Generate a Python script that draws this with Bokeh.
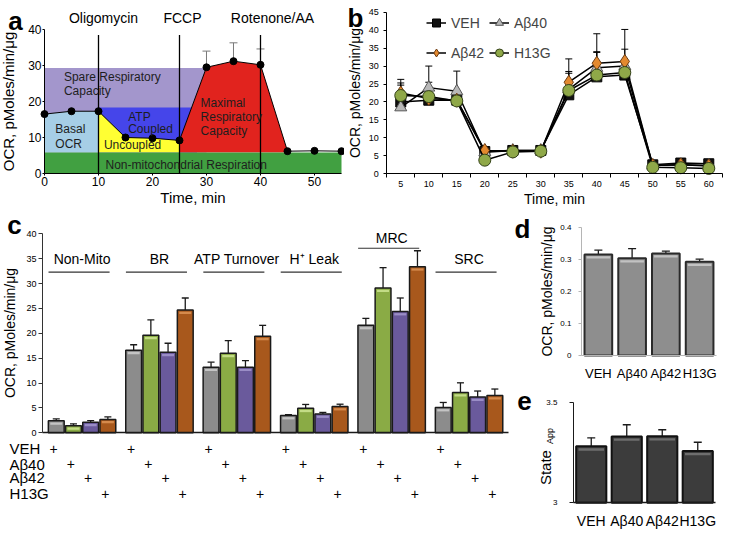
import numpy as np
from bokeh.plotting import figure
from bokeh.layouts import column, row
from bokeh.models import (ColumnDataSource, FixedTicker, Whisker, TeeHead,
                          Legend, LegendItem, Range1d, NumeralTickFormatter)
from bokeh.core.properties import value
from bokeh.embed import file_html
from bokeh.resources import INLINE

FONT = "Liberation Sans"

# ---------------- Panel a data ----------------
a_time = [0, 5, 10, 15, 20, 25, 30, 35, 40, 45, 50, 55]
a_ocr = [16.5, 17.3, 17.3, 10.0, 9.8, 9.2, 29.5, 31.2, 30.2, 6.2, 6.3, 6.2]
a_err_time = [5, 10, 30, 35, 40]
a_err_top = [20.1, 20.1, 34.0, 36.3, 34.6]
a_nonmito = 5.8
a_spare_top = 29.3
a_atp_top = 18.3
a_injections = [10, 25, 40]
a_injection_names = ["Oligomycin", "FCCP", "Rotenone/AA"]
a_region_text = ["Spare Respiratory", "Capacity", "Basal", "OCR", "ATP", "Coupled",
                 "Uncoupled", "Maximal", "Respiratory", "Capacity",
                 "Non-mitochondrial Respiration"]

# ---------------- Panel b data ----------------
b_time = [5, 10, 15, 20, 25, 30, 35, 40, 45, 50, 55, 60]
b_veh = [20.0, 20.5, 20.5, 6.2, 6.5, 6.5, 22.0, 27.0, 27.5, 2.5, 3.0, 2.8]
b_ab40 = [18.5, 24.0, 23.0, 6.0, 6.5, 6.5, 23.5, 29.5, 30.0, 2.3, 2.5, 2.3]
b_ab42 = [22.5, 21.0, 20.5, 6.5, 6.3, 6.3, 25.5, 30.8, 31.3, 2.3, 2.5, 2.2]
b_h13g = [21.8, 21.5, 20.3, 3.8, 6.1, 6.3, 23.2, 27.5, 28.2, 1.8, 1.7, 1.5]
b_veh_err = [4.7, 0.5, 0.5, 0.5, 0.5, 0.5, 6.0, 0.8, 0.8, 0.3, 0.3, 0.3]
b_ab40_err = [6.8, 6.0, 5.6, 0.5, 0.5, 0.5, 5.0, 4.5, 4.7, 0.3, 0.3, 0.3]
b_ab42_err = [3.8, 4.5, 0.5, 0.5, 0.5, 0.5, 6.5, 8.2, 8.9, 0.3, 0.3, 0.3]
b_h13g_err = [0.5, 0.5, 0.5, 0.5, 0.5, 0.5, 0.5, 6.3, 0.8, 0.3, 0.3, 0.3]

# ---------------- Panel c data ----------------
c_groups = ["Non-Mito", "BR", "ATP Turnover", "H\u207a Leak", "MRC", "SRC"]
c_treatments = ["VEH", "A\u03b240", "A\u03b242", "H13G"]
c_veh = [2.4, 16.6, 13.2, 3.5, 21.6, 5.1]
c_ab40 = [1.4, 19.6, 16.0, 4.95, 29.1, 8.1]
c_ab42 = [2.1, 16.2, 13.2, 3.8, 24.4, 7.2]
c_h13g = [2.7, 24.7, 19.4, 5.3, 33.4, 7.5]
c_veh_err = [0.4, 1.1, 1.0, 0.15, 1.4, 1.0]
c_ab40_err = [0.4, 3.1, 2.55, 0.75, 4.1, 1.95]
c_ab42_err = [0.35, 1.8, 1.3, 0.3, 2.7, 1.2]
c_h13g_err = [0.5, 2.4, 2.2, 0.45, 3.2, 1.3]

# ---------------- Panel d / e data ----------------
de_cats = ["VEH", "A\u03b240", "A\u03b242", "H13G"]
d_values = [0.316, 0.304, 0.319, 0.293]
d_err = [0.013, 0.030, 0.007, 0.008]
e_values = [3.281, 3.330, 3.331, 3.258]
e_err = [0.042, 0.058, 0.032, 0.043]


# ---------------- helpers ----------------
def mk(w, h, xr, yr):
    p = figure(width=w, height=h, x_range=Range1d(*xr), y_range=Range1d(*yr),
               output_backend="svg", toolbar_location=None,
               min_border_left=0, min_border_right=0, min_border_top=0,
               min_border_bottom=0)
    p.outline_line_color = None
    p.grid.visible = False
    p.background_fill_color = "white"
    p.border_fill_color = "white"
    for ax in p.axis:
        ax.major_label_text_font = FONT
        ax.axis_label_text_font = FONT
        ax.axis_label_text_font_style = "normal"
        ax.axis_label_text_color = "black"
        ax.major_label_text_color = "black"
        ax.minor_tick_line_color = None
        ax.major_tick_in = 0
        ax.axis_line_color = "black"
        ax.major_tick_line_color = "black"
    return p


def txt(p, x, y, text, size, align="left", bold=False, angle=0, color="black", **kw):
    p.text(x=x, y=y, text=text, text_font=value(FONT), text_font_size=size,
           text_font_style="bold" if bold else "normal", text_align=align,
           text_baseline="middle", text_color=color, angle=angle, **kw)


def whisk(p, x, lo, hi, color="#1a1a1a", width=1.3, head=7):
    src = ColumnDataSource(dict(x=list(x), lo=list(lo), hi=list(hi)))
    p.add_layout(Whisker(source=src, base="x", lower="lo", upper="hi",
                         line_color=color, line_width=width,
                         upper_head=TeeHead(size=head, line_color=color, line_width=width),
                         lower_head=None, level="underlay"))


def highlight(p, xs, tops, h0, h1, width, color):
    p.vbar(x=xs, top=np.array(tops) - h0, bottom=np.array(tops) - h1, width=width,
           fill_color=color, line_color=None)


# ================= Panel a =================
pa = mk(344, 207, (-8.148, 55.556), (-9.444, 48.056))
t = a_time
o = a_ocr
pa.quad(left=[t[0]], right=[t[6]], bottom=[a_nonmito], top=[a_spare_top],
        fill_color="#a396cc", line_color=None)
red_cross = float(np.interp(a_atp_top, [o[5], o[6]], [t[5], t[6]]))
pa.quad(left=[a_injections[0]], right=[red_cross + 1], bottom=[a_nonmito], top=[a_atp_top],
        fill_color="#4545ea", line_color=None)
pa.patch([t[0]] + t[0:3] + [t[2]], [a_nonmito] + o[0:3] + [a_nonmito],
         fill_color="#a6cee6", line_color=None)
pa.patch([t[2]] + t[2:6] + [t[5]], [a_nonmito] + o[2:6] + [a_nonmito],
         fill_color="#ffff33", line_color=None)
pa.patch([t[5]] + t[5:10] + [t[9]], [a_nonmito] + o[5:10] + [a_nonmito],
         fill_color="#e1231e", line_color=None)
pa.quad(left=[t[0]], right=[t[-1]], bottom=[0], top=[a_nonmito],
        fill_color="#41a041", line_color=None)
whisk(pa, a_err_time, [o[t.index(x)] for x in a_err_time], a_err_top,
      color="#7a7a7a", width=1, head=8)
pa.line(t, o, line_color="black", line_width=1)
pa.scatter(t, o, size=7, color="black")
a_line_top = 38.5
pa.segment(x0=a_injections, y0=[0] * 3, x1=a_injections, y1=[a_line_top] * 3,
           line_color="black", line_width=1.3)
txt(pa, a_injections, [43.3] * 3, a_injection_names, "14px", align="center",
    x_offset=[5, 3, 12])
a_text_x = [3.6, 3.6, 2.0, 2.0, 15.5, 15.5, 11.0, 28.9, 28.9, 28.9, 11.3]
a_text_y = [26.7, 22.8, 12.5, 8.3, 15.6, 12.4, 7.8, 19.7, 15.8, 11.9, 2.5]
txt(pa, a_text_x, a_text_y, a_region_text, "12px", color="#1e1e1e")
txt(pa, [-5.37], [42.5], ["a"], "26px", align="center", bold=True)

pa.xaxis.ticker = FixedTicker(ticks=[0, 10, 20, 30, 40, 50])
pa.yaxis.ticker = FixedTicker(ticks=[0, 10, 20, 30, 40])
pa.xaxis.fixed_location = 0
pa.yaxis.fixed_location = 0
pa.xaxis.bounds = (0, 55)
pa.yaxis.bounds = (0, 40)
pa.xaxis.axis_label = "Time, min"
pa.yaxis.axis_label = "OCR, pMoles/min/\u03bcg"
for ax in pa.axis:
    ax.major_label_text_font_size = "12px"
    ax.axis_label_text_font_size = "15px"
    ax.major_tick_out = 2
    ax.major_label_standoff = 1
pa.xaxis.axis_label_standoff = 0
pa.yaxis.axis_label_standoff = 8

# ================= Panel b =================
pb = mk(384, 207, (-5.05, 63.52), (-9.38, 48.26))
b_series = [
    ("VEH", b_veh, b_veh_err, "square", "#111111", "#000000", 10),
    ("A\u03b240", b_ab40, b_ab40_err, "triangle", "#b8b8b8", "#555555", 12),
    ("A\u03b242", b_ab42, b_ab42_err, "diamond", "#e3892f", "#6b3a10", 14),
    ("H13G", b_h13g, b_h13g_err, "circle", "#8fa848", "#34421a", 12),
]
for name, ys, errs, marker, fill, edge, size in b_series:
    whisk(pb, b_time, ys, np.array(ys) + np.array(errs), color="black", width=1, head=7)
items = []
for name, ys, errs, marker, fill, edge, size in b_series:
    ln = pb.line(b_time, ys, line_color="black", line_width=1.5)
    sc = pb.scatter(b_time, ys, marker=marker, size=size, fill_color=fill,
                    line_color=edge, line_width=1)
    items.append(LegendItem(label=name, renderers=[ln, sc]))
legend = Legend(items=items, orientation="horizontal", ncols=2, location=(82, 142),
                background_fill_alpha=0, border_line_alpha=0, padding=0, margin=0,
                spacing=5, glyph_width=20, glyph_height=25, label_height=25,
                label_standoff=5, label_text_font=FONT, label_text_font_size="14px",
                label_text_baseline="middle")
pb.add_layout(legend)
txt(pb, [-3.09], [43.25], ["b"], "26px", align="center", bold=True)
pb.xaxis.ticker = FixedTicker(ticks=b_time,
                              minor_ticks=[x - 2.5 for x in b_time] + [b_time[-1] + 2.5])
pb.yaxis.ticker = FixedTicker(ticks=list(range(0, 46, 5)))
pb.xaxis.fixed_location = 0
pb.yaxis.fixed_location = 2.5
pb.xaxis.bounds = (2.5, 62.5)
pb.yaxis.bounds = (0, 45)
pb.xaxis.axis_label = "Time, min"
pb.yaxis.axis_label = "OCR, pMoles/min/\u03bcg"
for ax in pb.axis:
    ax.major_label_text_font_size = "9px"
    ax.axis_label_text_font_size = "14px"
pb.xaxis.major_tick_out = 0
pb.xaxis.minor_tick_line_color = "black"
pb.xaxis.minor_tick_out = 4
pb.xaxis.minor_tick_in = 0
pb.xaxis.major_label_standoff = 3
pb.xaxis.axis_label_standoff = 1
pb.yaxis.major_tick_out = 3
pb.yaxis.major_label_standoff = 5
pb.yaxis.axis_label_standoff = 2

# ================= Panel c =================
pc = mk(512, 327, (-3.242, 26.526), (-20.44, 45.29))
c_axis_lo, c_axis_hi = -0.8, 26.3
c_group_x = np.arange(len(c_groups)) * 4.5
c_series = [c_veh, c_ab40, c_ab42, c_h13g]
c_errs = [c_veh_err, c_ab40_err, c_ab42_err, c_h13g_err]
c_colors = ["#8c8c8c", "#8aab45", "#6a5a9c", "#a8581c"]
c_gloss = ["#c4c4c4", "#c3dc86", "#9a8dc6", "#d58a4c"]
for j in range(4):
    xs = c_group_x + j
    whisk(pc, xs, c_series[j], np.array(c_series[j]) + np.array(c_errs[j]))
    pc.vbar(x=xs, top=c_series[j], bottom=0, width=0.92, fill_color=c_colors[j],
            line_color="#1a1a1a", line_width=1.5)
    highlight(pc, xs, c_series[j], 0.35, 0.8, 0.7, c_gloss[j])
c_label_y = [35, 35, 35, 35, 39.2, 35]
c_line_y = [32.3, 32.3, 32.3, 32.3, 37.1, 32.3]
txt(pc, c_group_x + 1.5, c_label_y, c_groups, "14px", align="center")
pc.segment(x0=c_group_x - 0.45, x1=c_group_x + 3.1, y0=c_line_y, y1=c_line_y,
           line_color="#333333", line_width=1.2)
c_row_y = [-3.2, -6.3, -9.0, -12.2]
for r in range(4):
    txt(pc, c_group_x + r - 0.15, [c_row_y[r]] * len(c_groups), ["+"] * len(c_groups),
        "14px", align="center")
txt(pc, [-2.72] * 4, c_row_y, c_treatments, "15px")
txt(pc, [-2.43], [41.87], ["c"], "26px", align="center", bold=True)
pc.xaxis.fixed_location = 0
pc.xaxis.bounds = (c_axis_lo, c_axis_hi)
pc.xaxis.ticker = FixedTicker(ticks=[])
pc.xaxis.major_tick_out = 0
pc.xaxis.major_label_text_font_size = "0px"
pc.xaxis.axis_line_color = "#1a1a1a"
pc.xaxis.axis_line_width = 1.5
pc.yaxis.fixed_location = c_axis_lo
pc.yaxis.bounds = (0, 40)
pc.yaxis.ticker = FixedTicker(ticks=list(range(0, 41, 5)))
pc.yaxis.axis_label = "OCR, pMoles/min/\u03bcg"
pc.yaxis.major_label_text_font_size = "9px"
pc.yaxis.axis_label_text_font_size = "14px"
pc.yaxis.major_tick_out = 4
pc.yaxis.major_label_standoff = 2
pc.yaxis.axis_label_standoff = 5
pc.yaxis.axis_line_color = "#333333"
pc.yaxis.major_tick_line_color = "#333333"

# ================= Panel d =================
de_x = list(np.arange(len(de_cats)) + 1)
de_overrides = {int(x): c for x, c in zip(de_x, de_cats)}
pdd = mk(216, 179, (-1.544, 4.856), (-0.096875, 0.4625))
whisk(pdd, de_x, d_values, np.array(d_values) + np.array(d_err), head=8)
pdd.vbar(x=de_x, top=d_values, bottom=0, width=0.82, fill_color="#8e8e8e",
         line_color="#2a2a2a", line_width=2)
highlight(pdd, de_x, d_values, 0.006, 0.013, 0.7, "#c2c2c2")
txt(pdd, [-1.248], [0.394], ["d"], "26px", align="center", bold=True)
pdd.xaxis.fixed_location = 0
pdd.yaxis.fixed_location = 0.5
pdd.xaxis.bounds = (0.5, 4.5)
pdd.yaxis.bounds = (0, 0.4)
pdd.xaxis.ticker = FixedTicker(ticks=de_x)
pdd.xaxis.major_label_overrides = de_overrides
pdd.yaxis.ticker = FixedTicker(ticks=[0, 0.1, 0.2, 0.3, 0.4])
pdd.yaxis.formatter = NumeralTickFormatter(format="0.[0]")
pdd.yaxis.axis_label = "OCR, pMoles/min/\u03bcg"
pdd.yaxis.major_label_text_font_size = "8px"
pdd.yaxis.axis_label_text_font_size = "14px"
pdd.yaxis.major_tick_out = 3
pdd.yaxis.major_label_standoff = 7
pdd.yaxis.axis_label_standoff = 2
pdd.yaxis.axis_line_color = "#b5b5b5"
pdd.yaxis.major_tick_line_color = "#b5b5b5"
pdd.xaxis.axis_line_color = "#b5b5b5"
pdd.xaxis.major_tick_out = 0
pdd.xaxis.major_label_text_font_size = "13px"
pdd.xaxis.major_label_standoff = 10

# ================= Panel e =================
pe = mk(216, 148, (-1.218, 4.866), (2.8424, 3.578))
whisk(pe, de_x, e_values, np.array(e_values) + np.array(e_err), head=8)
pe.vbar(x=de_x, top=e_values, bottom=3, width=0.85, fill_color="#3c3c3c",
        line_color="#111111", line_width=2)
highlight(pe, de_x, e_values, 0.01, 0.022, 0.72, "#6e6e6e")
txt(pe, [-0.289], [3.175], ["State"], "15px", align="center", angle=np.pi / 2)
txt(pe, [-0.148], [3.332], ["App"], "9px", align="center", angle=np.pi / 2)
txt(pe, [-0.88], [3.508], ["e"], "26px", align="center", bold=True)
pe.xaxis.fixed_location = 3
pe.yaxis.fixed_location = 0.5
pe.xaxis.bounds = (0.5, 4.5)
pe.yaxis.bounds = (3, 3.5)
pe.xaxis.ticker = FixedTicker(ticks=de_x)
pe.xaxis.major_label_overrides = de_overrides
pe.yaxis.ticker = FixedTicker(ticks=[3, 3.5])
pe.yaxis.formatter = NumeralTickFormatter(format="0.[0]")
pe.yaxis.major_label_text_font_size = "8px"
pe.yaxis.major_tick_out = 4
pe.yaxis.major_label_standoff = 12
pe.yaxis.axis_line_color = "#1a1a1a"
pe.yaxis.major_tick_line_color = "#1a1a1a"
pe.xaxis.axis_line_color = "#1a1a1a"
pe.xaxis.axis_line_width = 1.5
pe.xaxis.major_tick_out = 0
pe.xaxis.major_label_text_font_size = "14px"
pe.xaxis.major_label_standoff = 10

layout = column(row(pa, pb), row(pc, column(pdd, pe)))
open("out.html", "w").write(file_html(layout, INLINE))
